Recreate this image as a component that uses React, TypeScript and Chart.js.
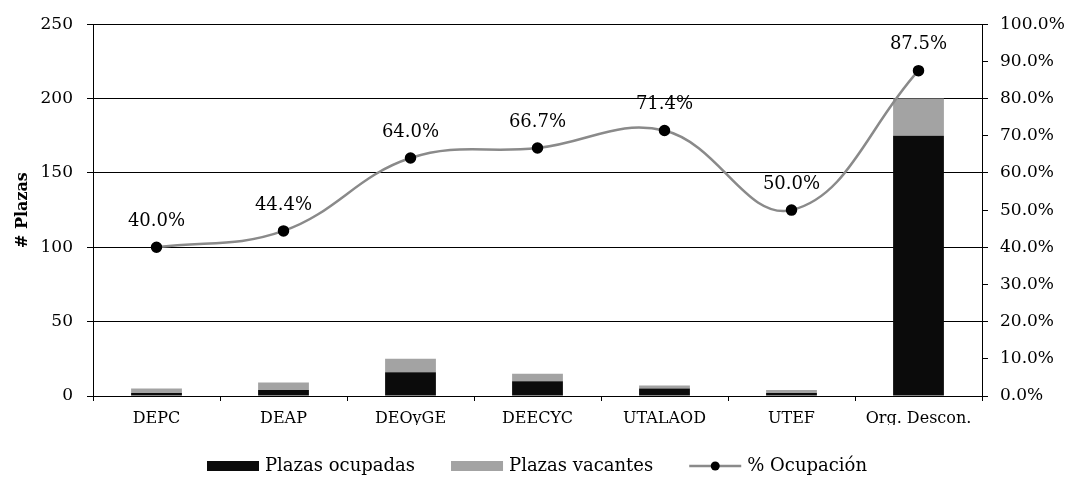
import React, { useEffect, useRef } from "react";
import { Chart, registerables } from "chart.js";

Chart.register(...registerables);

const categories = ["DEPC", "DEAP", "DEOyGE", "DEECYC", "UTALAOD", "UTEF", "Org. Descon."];
const occupied = [2, 4, 16, 10, 5, 2, 175];
const vacant = [3, 5, 9, 5, 2, 2, 25];
const occupancyPct = [40.0, 44.4, 64.0, 66.7, 71.4, 50.0, 87.5];
const leftTicks = { min: 0, max: 250, step: 50 };
const rightTicks = { min: 0, max: 100, step: 10 };

const seriesNames = ["Plazas ocupadas", "Plazas vacantes", "% Ocupación"];
const COL_OCC = "#0b0b0b";
const COL_VAC = "#a3a3a3";
const COL_LINE = "#8a8a8a";
const FONT = "'DejaVu Serif', serif";

const pctLabelsPlugin = {
  id: "pctLabels",
  afterDatasetsDraw(chart: any) {
    const meta = chart.getDatasetMeta(2);
    const ctx = chart.ctx;
    ctx.save();
    ctx.font = `18px ${FONT}`;
    ctx.fillStyle = "#000";
    ctx.textAlign = "center";
    ctx.textBaseline = "middle";
    meta.data.forEach((pt: any, i: number) => {
      ctx.fillText(occupancyPct[i].toFixed(1) + "%", pt.x, pt.y - 26);
    });
    ctx.restore();
  },
};

const legendPlugin = {
  id: "customLegend",
  afterDraw(chart: any) {
    const ctx = chart.ctx;
    ctx.save();
    ctx.font = `18px ${FONT}`;
    ctx.textBaseline = "middle";
    const y = 466;
    const boxW = 52;
    const gapText = 6;
    const gapItem = 36;
    const widths = seriesNames.map((n) => boxW + gapText + ctx.measureText(n).width);
    const total = widths.reduce((a, b) => a + b, 0) + gapItem * (seriesNames.length - 1);
    let x = chart.width / 2 - total / 2;
    seriesNames.forEach((name, i) => {
      if (i === 0 || i === 1) {
        ctx.fillStyle = i === 0 ? COL_OCC : COL_VAC;
        ctx.fillRect(x, y - 5, boxW, 10);
      } else {
        ctx.strokeStyle = COL_LINE;
        ctx.lineWidth = 2.5;
        ctx.beginPath();
        ctx.moveTo(x, y);
        ctx.lineTo(x + boxW, y);
        ctx.stroke();
        ctx.fillStyle = "#000";
        ctx.beginPath();
        ctx.arc(x + boxW / 2, y, 4.5, 0, Math.PI * 2);
        ctx.fill();
      }
      ctx.fillStyle = "#000";
      ctx.textAlign = "left";
      ctx.fillText(name, x + boxW + gapText, y);
      x += widths[i] + gapItem;
    });
    ctx.restore();
  },
};

export default function App() {
  const ref = useRef<HTMLCanvasElement | null>(null);

  useEffect(() => {
    document.body.style.margin = "0";
    if (!ref.current) return;
    Chart.defaults.font.family = FONT;
    Chart.defaults.color = "#000";
    const chart = new Chart(ref.current, {
      type: "bar",
      data: {
        labels: categories,
        datasets: [
          {
            type: "bar",
            label: seriesNames[0],
            data: occupied,
            backgroundColor: COL_OCC,
            yAxisID: "y",
            stack: "s",
            order: 2,
            categoryPercentage: 1,
            barPercentage: 0.4,
          },
          {
            type: "bar",
            label: seriesNames[1],
            data: vacant,
            backgroundColor: COL_VAC,
            yAxisID: "y",
            stack: "s",
            order: 2,
            categoryPercentage: 1,
            barPercentage: 0.4,
          },
          {
            type: "line",
            label: seriesNames[2],
            data: occupancyPct,
            yAxisID: "y1",
            borderColor: COL_LINE,
            borderWidth: 2.5,
            backgroundColor: "#000",
            pointBackgroundColor: "#000",
            pointBorderColor: "#000",
            pointRadius: 4.5,
            tension: 0.4,
            order: 0,
          } as any,
        ],
      },
      options: {
        responsive: false,
        animation: false,
        layout: { padding: { left: 13, right: 0, top: 20, bottom: 60 } },
        plugins: {
          legend: { display: false },
          tooltip: { enabled: false },
        },
        scales: {
          x: {
            stacked: true,
            grid: {
              display: true,
              drawOnChartArea: false,
              drawTicks: true,
              tickLength: 5,
              offset: true,
              color: "#000",
            },
            border: { color: "#000", width: 1 },
            ticks: { font: { size: 16, family: FONT }, color: "#000", padding: 8, maxRotation: 0 },
            afterFit(scale: any) {
              scale.height = 29;
            },
          },
          y: {
            stacked: true,
            position: "left",
            min: leftTicks.min,
            max: leftTicks.max,
            ticks: { stepSize: leftTicks.step, font: { size: 17, family: FONT }, color: "#000", padding: 14 },
            grid: { color: "#000", lineWidth: 1, tickLength: 6 },
            border: { color: "#000", width: 1 },
            title: {
              display: true,
              text: "# Plazas",
              font: { size: 16, weight: "bold", family: FONT },
              color: "#000",
              padding: 0,
            },
            afterFit(scale: any) {
              scale.width = 80;
            },
          },
          y1: {
            position: "right",
            min: rightTicks.min,
            max: rightTicks.max,
            ticks: {
              stepSize: rightTicks.step,
              font: { size: 17, family: FONT },
              color: "#000",
              padding: 12,
              callback: (v: any) => Number(v).toFixed(1) + "%",
            },
            grid: { drawOnChartArea: false, color: "#000", tickLength: 6 },
            border: { color: "#000", width: 1 },
            afterFit(scale: any) {
              scale.width = 92;
            },
          },
        },
      },
      plugins: [pctLabelsPlugin, legendPlugin],
    });
    return () => chart.destroy();
  }, []);

  return (
    <div style={{ width: 1074, height: 485, background: "#fff" }}>
      <canvas ref={ref} width={1074} height={485} />
    </div>
  );
}
